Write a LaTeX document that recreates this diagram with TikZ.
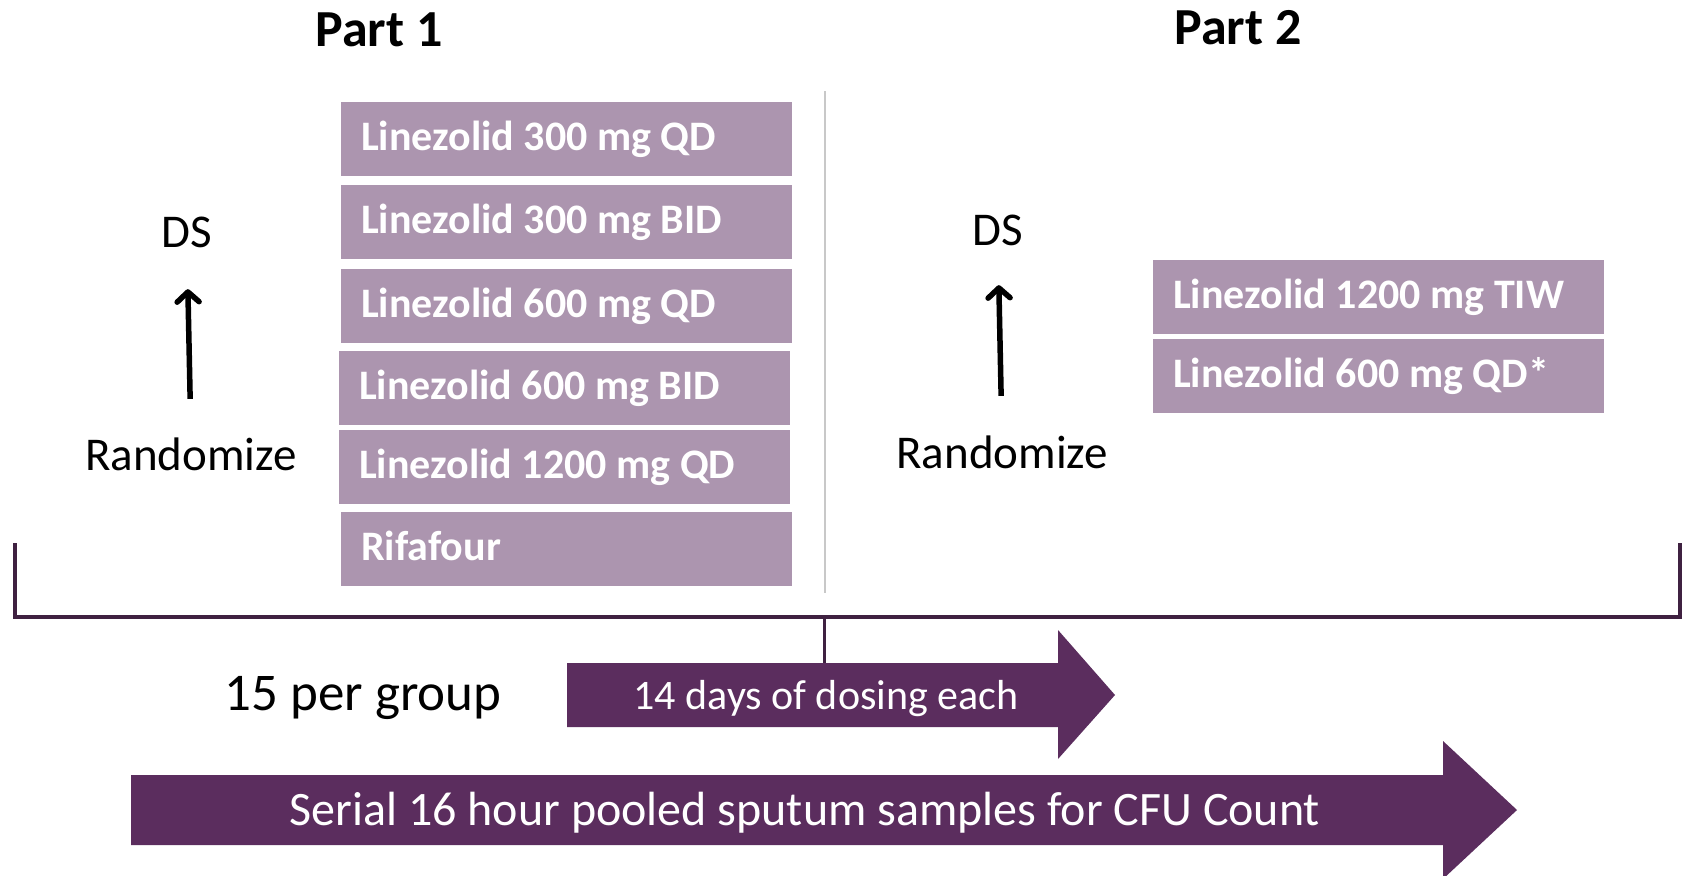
\documentclass[tikz,border=0pt]{standalone}
\usepackage{fontspec}
\setmainfont{Carlito}
\usetikzlibrary{arrows.meta}

\definecolor{armfill}{HTML}{AC95AF}
\definecolor{darkplum}{HTML}{5B2D5E}
\definecolor{bracketplum}{HTML}{3F2141}
\definecolor{divgray}{HTML}{C8C8C8}

\tikzset{%
        arm/.style={
                rectangle,
                fill=armfill,
                anchor=west,
                minimum width=451pt,
                minimum height=74pt,
                text width=411pt,
                inner xsep=20pt,
                inner ysep=0pt,
                align=flush left,
                text=white,
                text height=23pt,
                text depth=0pt,
                font=\bfseries\fontsize{42}{42}\selectfont
            },
        txt/.style={
                inner sep=0pt,
                anchor=base,
                text height=30pt,
                text depth=0pt,
                font=\fontsize{47}{47}\selectfont
            },
        parttitle/.style={
                inner sep=0pt,
                anchor=base,
                font=\bfseries\fontsize{52}{52}\selectfont
            },
        uparrow/.style={
                line width=5.5pt,
                -{Straight Barb[length=10pt,width=22pt,line cap=round,line join=round]}
            }
    }

\begin{document}
\begin{tikzpicture}[x=1pt, y=-1pt]
    \useasboundingbox (0,0) rectangle (1685,875);

    % part 1:
        \node [parttitle] (p1) at (379,47) {Part 1};
        \node [arm] (a1) at (341,138.5) {Linezolid 300 mg QD};
        \node [arm] (a2) at (341,222) {Linezolid 300 mg BID};
        \node [arm] (a3) at (341,305.5) {Linezolid 600 mg QD};
        \node [arm] (a4) at (339,388) {Linezolid 600 mg BID};
        \node [arm] (a5) at (339,467) {Linezolid 1200 mg QD};
        \node [arm] (a6) at (341,549) {Rifafour};
        \node [txt] (ds1) at (187,247) {DS};
        \node [txt] (rnd1) at (191,470) {Randomize};

        \draw[uparrow, shorten <=41pt, shorten >=42pt] (rnd1.north) -- (ds1.south);

        \draw[divgray, line width=1.2pt] (825,91) -- (825,593);

    % part 2:
        \node [parttitle] (p2) at (1238,45) {Part 2};
        \node [arm] (b1) at (1153,296.5) {Linezolid 1200 mg TIW};
        \node [arm] (b2) at (1153,376) {Linezolid 600 mg QD*};
        \node [txt] (ds2) at (998,245) {DS};
        \node [txt] (rnd2) at (1002,468) {Randomize};

        \draw[uparrow, shorten <=42pt, shorten >=40pt] (rnd2.north) -- (ds2.south);

    % timeline:
        \coordinate (bl) at (15,543);
        \coordinate (br) at (1680,543);
        \coordinate (bm) at (824,617);
        \coordinate (dose) at (824,663);
        \draw[bracketplum, line width=4pt] (bl) |- (bm) -| (br);
        \draw[bracketplum, line width=3pt] (bm) -- (dose);

        \fill[darkplum] (567,663) -- (1058,663) -- (1058,630) -- (1115,695)
            -- (1058,759) -- (1058,727) -- (567,727) -- cycle;
        \fill[darkplum] (131,775) -- (1443,775) -- (1443,741) -- (1517,810)
            -- (1443,879) -- (1443,845) -- (131,845) -- cycle;

        \node [txt, font=\fontsize{53}{53}\selectfont] (grp) at (363,710) {15 per group};
        \node [txt, text=white, font=\fontsize{42}{42}\selectfont] (days) at (826,709) {14 days of dosing each};
        \node [txt, text=white, font=\fontsize{48}{48}\selectfont] (serial) at (805,825) {Serial 16 hour pooled sputum samples for CFU Count};
\end{tikzpicture}
\end{document}
